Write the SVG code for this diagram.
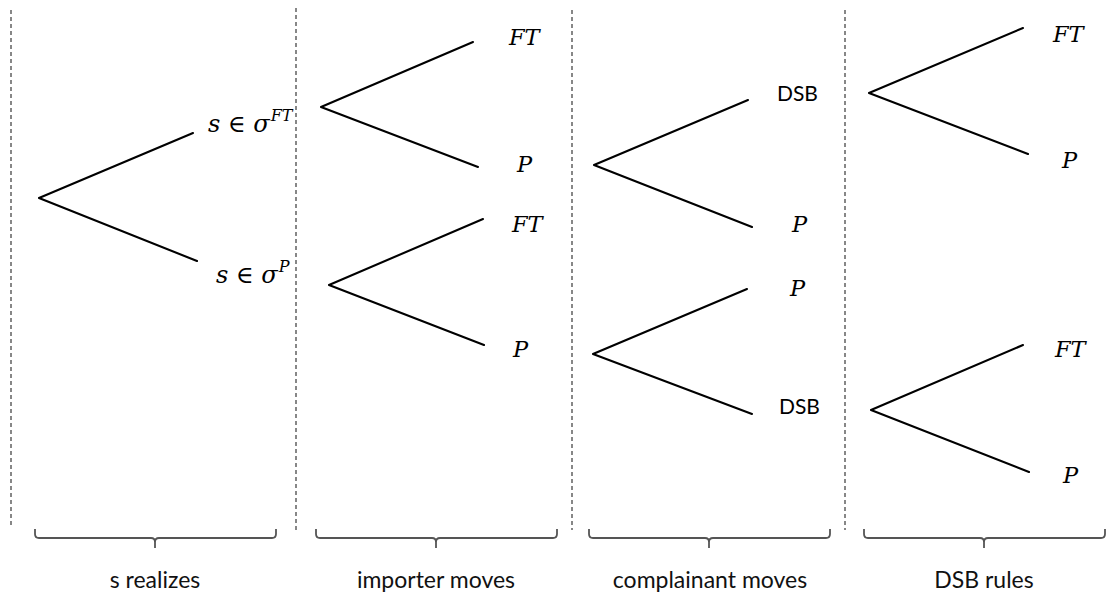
<svg xmlns="http://www.w3.org/2000/svg" width="1108" height="595" viewBox="0 0 1108 595">
<style>
.sep{stroke:#555;stroke-width:1.4;stroke-dasharray:4 3;fill:none}
.br{stroke:#555;stroke-width:1.8;fill:none}
.edge{stroke:#000;stroke-width:2.1;fill:none;stroke-linecap:round;stroke-linejoin:round}
.m{font-family:"DejaVu Serif","Liberation Serif",serif;font-style:italic;font-size:22.5px;fill:#000}
.big{font-size:24px}
.up{font-style:normal}
.sup{font-size:16px}
.t{font-family:Lato,"Open Sans",sans-serif;font-size:21px;fill:#000}
.lbl{font-family:Lato,"Open Sans",sans-serif;font-size:23px;fill:#111;text-anchor:middle}
</style>
<rect width="1108" height="595" fill="#fff"/>
<g id="separators">
<line class="sep" x1="11" y1="10" x2="11" y2="527"/>
<line class="sep" x1="296" y1="8" x2="296" y2="530"/>
<line class="sep" x1="572" y1="10" x2="572" y2="530"/>
<line class="sep" x1="845" y1="10" x2="845" y2="530"/>
</g>
<g id="connectors">
<polyline class="edge" points="193,133 39,198 197,261"/>
<polyline class="edge" points="473,42 321,107 478,167"/>
<polyline class="edge" points="483,219 329,285 484,345"/>
<polyline class="edge" points="748,100 594,165 752,227"/>
<polyline class="edge" points="747,289 593,354 752,414"/>
<polyline class="edge" points="1023,28 869,93 1028,154"/>
<polyline class="edge" points="1023,345 871,410 1029,472"/>
</g>
<g id="stage1-labels">
<text class="m big" x="208" y="132">s <tspan class="up">∈</tspan> σ<tspan class="sup" dx="1" dy="-11">FT</tspan></text>
<text class="m big" x="216" y="283">s <tspan class="up">∈</tspan> σ<tspan class="sup" dx="1" dy="-11">P</tspan></text>
</g>
<g id="stage2-labels">
<text class="m" x="509" y="45">FT</text>
<text class="m" x="517" y="172">P</text>
<text class="m" x="512" y="232">FT</text>
<text class="m" x="513" y="357">P</text>
</g>
<g id="stage3-labels">
<text class="t" x="777" y="101">DSB</text>
<text class="m" x="792" y="232">P</text>
<text class="m" x="790" y="296">P</text>
<text class="t" x="779" y="414">DSB</text>
</g>
<g id="stage4-labels">
<text class="m" x="1053" y="42">FT</text>
<text class="m" x="1062" y="168">P</text>
<text class="m" x="1055" y="357">FT</text>
<text class="m" x="1063" y="483">P</text>
</g>
<g id="brace-s-realizes">
<path class="br" d="M35,529 L35,534 Q35,538 39,538 L151,538 Q155,538 155,542 L155,548 M155,542 Q155,538 159,538 L272,538 Q276,538 276,534 L276,529"/>
<text class="lbl" x="155" y="588">s realizes</text>
</g>
<g id="brace-importer-moves">
<path class="br" d="M316,529 L316,534 Q316,538 320,538 L432,538 Q436,538 436,542 L436,548 M436,542 Q436,538 440,538 L553,538 Q557,538 557,534 L557,529"/>
<text class="lbl" x="436" y="588">importer moves</text>
</g>
<g id="brace-complainant-moves">
<path class="br" d="M589,529 L589,534 Q589,538 593,538 L705,538 Q709,538 709,542 L709,548 M709,542 Q709,538 713,538 L826,538 Q830,538 830,534 L830,529"/>
<text class="lbl" x="710" y="588">complainant moves</text>
</g>
<g id="brace-dsb-rules">
<path class="br" d="M864,529 L864,534 Q864,538 868,538 L980,538 Q984,538 984,542 L984,548 M984,542 Q984,538 988,538 L1101,538 Q1105,538 1105,534 L1105,529"/>
<text class="lbl" x="984" y="588">DSB rules</text>
</g>
</svg>
